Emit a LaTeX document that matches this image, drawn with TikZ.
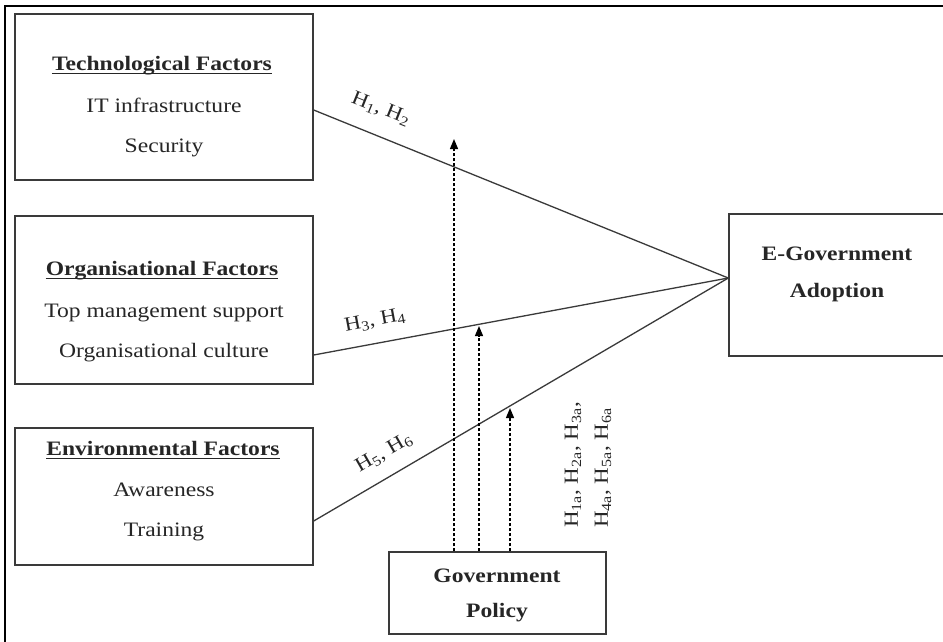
\documentclass[tikz,border=0pt]{standalone}
\usepackage{fontspec}
\setmainfont{Liberation Serif}[FakeStretch=1.15]
\usetikzlibrary{arrows.meta}
\definecolor{boxgray}{HTML}{3A3A3A}
\begin{document}
\begin{tikzpicture}[x=1pt,y=-1pt,
  box/.style={draw=boxgray, line width=1.4pt, inner sep=0pt},
  txt/.style={anchor=base, inner sep=0pt, font=\fontsize{20.5}{24}\selectfont, text=black!85},
  ttl/.style={txt, font=\fontsize{20.5}{24}\selectfont\bfseries},
  uline/.style={draw=black!85, line width=1.1pt},
  conn/.style={draw=boxgray, line width=1.3pt},
  pol/.style={draw=black, line width=1.2pt, dash pattern=on 3pt off 2pt, -{Triangle[width=8pt,length=10pt]}},
  lab/.style={inner sep=0pt, font=\fontsize{20}{30}\selectfont, text=black!85}]
\clip (0,0) rectangle (943,641);
\fill[white] (0,0) rectangle (943,641);
% outer frame
\draw[line width=2pt, black] (5,6) rectangle (960,660);
% boxes
\node[box, minimum width=298pt, minimum height=166pt] (tech) at (164,97) {};
\node[box, minimum width=298pt, minimum height=168pt] (org) at (164,300) {};
\node[box, minimum width=298pt, minimum height=137pt] (env) at (164,496.5) {};
\node[box, minimum width=217pt, minimum height=82pt] (gov) at (497.5,593) {};
\node[box, minimum width=216pt, minimum height=142pt] (egov) at (837,285) {};
% texts
\node[ttl] (techT) at (162,70) {Technological Factors};
\node[txt] (techA) at (164,112) {IT infrastructure};
\node[txt] (techB) at (164,152) {Security};
\node[ttl] (orgT) at (162,275) {Organisational Factors};
\node[txt] (orgA) at (164,317) {Top management support};
\node[txt] (orgB) at (164,357) {Organisational culture};
\node[ttl] (envT) at (163,455) {Environmental Factors};
\node[txt] (envA) at (164,496) {Awareness};
\node[txt] (envB) at (164,536) {Training};
\node[ttl] (govA) at (497,582) {Government};
\node[ttl] (govB) at (497,617) {Policy};
\node[ttl] (egovA) at (837,260) {E-Government};
\node[ttl] (egovB) at (837,297) {Adoption};
% underlines
\foreach \n in {techT,orgT,envT}
  \draw[uline] ([yshift=-3.5pt]\n.base west) -- ([yshift=-3.5pt]\n.base east);
% connectors
\coordinate (meet) at ([yshift=7pt]egov.west);
\draw[conn] ([yshift=-13pt]tech.east) -- (meet);
\draw[conn] ([yshift=-55pt]org.east) -- (meet);
\draw[conn] ([yshift=-24.5pt]env.east) -- (meet);
% labels
\node[lab, rotate=-22] (h12) at (381,109) {H\textsubscript{1}, H\textsubscript{2}};
\node[lab, rotate=10.5] (h34) at (375,321) {H\textsubscript{3}, H\textsubscript{4}};
\node[lab, rotate=30] (h56) at (384,453) {H\textsubscript{5}, H\textsubscript{6}};
\node[lab, rotate=90, align=left] (hv) at (588,465)
  {H\textsubscript{1a}, H\textsubscript{2a}, H\textsubscript{3a},\\H\textsubscript{4a}, H\textsubscript{5a}, H\textsubscript{6a}};
% policy arrows
\coordinate (a1) at (454,139);
\coordinate (a2) at (479,326);
\coordinate (a3) at (510,408);
\draw[pol] (a1 |- gov.north) -- (a1);
\draw[pol] (a2 |- gov.north) -- (a2);
\draw[pol] (a3 |- gov.north) -- (a3);
\end{tikzpicture}
\end{document}
